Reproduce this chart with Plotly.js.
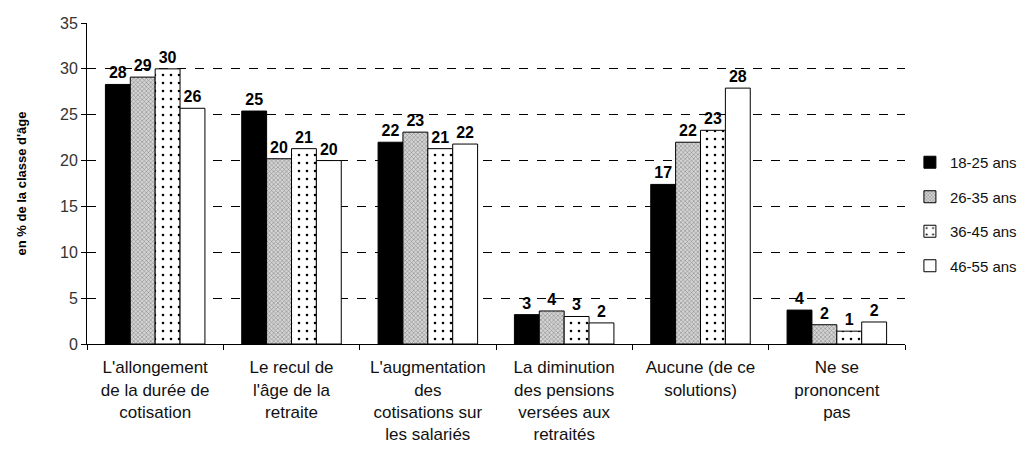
<!DOCTYPE html>
<html>
<head>
<meta charset="utf-8">
<script src="https://cdn.plot.ly/plotly-3.0.1.min.js"></script>
<style>
  body { margin: 0; background: #fff; }
  #chart { width: 1028px; height: 455px; }
</style>
</head>
<body>
<div id="chart"></div>
<script>
// categories (x tick labels, with line breaks as in the source)
const categories = [
    "L'allongement<br>de la durée de<br>cotisation",
    "Le recul de<br>l'âge de la<br>retraite",
    "L'augmentation<br>des<br>cotisations sur<br>les salariés",
    "La diminution<br>des pensions<br>versées aux<br>retraités",
    "Aucune (de ce<br>solutions)",
    "Ne se<br>prononcent<br>pas"
];

const seriesNames = ['18-25 ans', '26-35 ans', '36-45 ans', '46-55 ans'];

// values (% of the age group)
const age18_25 = [28.3, 25.4, 22.0, 3.2, 17.4, 3.7];
const age26_35 = [29.1, 20.2, 23.1, 3.6, 22.0, 2.1];
const age36_45 = [30.0, 21.3, 21.3, 3.0, 23.3, 1.4];
const age46_55 = [25.7, 20.0, 21.8, 2.3, 27.9, 2.4];

const FONT = 'Liberation Sans, Arial, sans-serif';

function makeTrace(name, values, markerStyle, group) {
    return {
        type: 'bar',
        name: name,
        x: categories,
        y: values,
        legendgroup: group,
        texttemplate: '%{y:.0f}',
        textposition: 'outside',
        cliponaxis: false,
        textfont: { family: FONT, size: 16, color: '#000', weight: 'bold' },
        marker: Object.assign({ line: { color: '#000', width: 1 } }, markerStyle),
        hoverinfo: 'x+y'
    };
}

const traces = [
    makeTrace(seriesNames[0], age18_25, { color: '#000000' }, 'g1'),
    makeTrace(seriesNames[1], age26_35, {
        color: '#c8c8c8',
        pattern: { shape: 'x', fgcolor: '#7a7a7a', bgcolor: '#d4d4d4', size: 3, solidity: 0.3 }
    }, 'g2'),
    makeTrace(seriesNames[2], age36_45, {
        color: '#ffffff',
        pattern: { shape: '.', fgcolor: '#000000', bgcolor: '#ffffff', size: 8, solidity: 0.08 }
    }, 'g3'),
    makeTrace(seriesNames[3], age46_55, { color: '#ffffff' }, 'g4')
];

const layout = {
    width: 1028,
    height: 455,
    margin: { l: 87, r: 123, t: 23, b: 111, autoexpand: false },
    paper_bgcolor: '#ffffff',
    plot_bgcolor: '#ffffff',
    font: { family: FONT, color: '#000' },
    barmode: 'group',
    bargap: 0.27,
    bargroupgap: 0,
    showlegend: true,
    legend: {
        x: 1.006, xanchor: 'left',
        y: 0.405, yanchor: 'middle',
        font: { family: FONT, size: 15, color: '#111' },
        tracegroupgap: 12,
        bgcolor: 'rgba(0,0,0,0)'
    },
    xaxis: {
        type: 'category',
        tickson: 'boundaries',
        ticks: 'outside',
        ticklen: 5,
        tickcolor: '#000',
        showline: true,
        linecolor: '#000',
        linewidth: 1,
        showgrid: false,
        tickangle: 0,
        ticklabelstandoff: 8,
        tickfont: { family: FONT, size: 17, color: '#111' }
    },
    yaxis: {
        range: [0, 35],
        dtick: 5,
        ticks: 'outside',
        ticklen: 5,
        tickcolor: '#000',
        showline: true,
        linecolor: '#000',
        linewidth: 1,
        showgrid: true,
        gridcolor: '#000',
        gridwidth: 1,
        griddash: 'dash',
        zeroline: false,
        tickfont: { family: FONT, size: 16, color: '#333' },
        title: {
            text: "en % de la classe d'âge",
            font: { family: FONT, size: 13, color: '#000', weight: 'bold' },
            standoff: 30
        }
    }
};

Plotly.newPlot('chart', traces, layout, { displayModeBar: false, staticPlot: true });
</script>
</body>
</html>
